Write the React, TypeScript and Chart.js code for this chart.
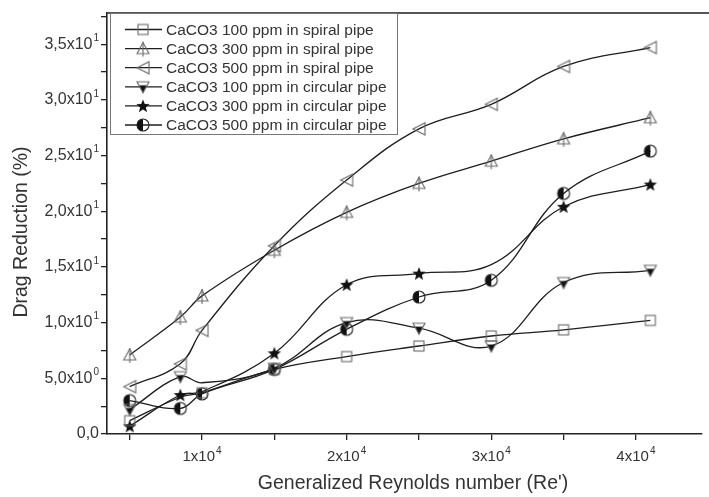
import React, { useEffect, useRef } from 'react';
import { Chart, registerables } from 'chart.js';

Chart.register(...registerables);

// ---- Data ----
const reynolds = [5000, 8500, 10000, 15000, 20000, 25000, 30000, 35000, 41000];
const spiral100 = [1.2, 3.3, 3.7, 5.8, 6.95, 7.9, 8.8, 9.35, 10.2];
const spiral300 = [7.1, 10.5, 12.4, 16.5, 19.9, 22.5, 24.5, 26.5, 28.4];
const spiral500 = [4.25, 6.3, 9.3, 16.9, 22.8, 27.4, 29.6, 33.0, 34.7];
const circular100 = [2.2, 5.15, 4.6, 5.9, 10.0, 9.5, 7.9, 13.6, 14.7];
const circular300 = [0.7, 3.5, 3.8, 7.25, 13.4, 14.4, 15.2, 20.4, 22.4];
const circular500 = [3.0, 2.3, 3.6, 5.8, 9.4, 12.3, 13.8, 21.6, 25.4];
// markers hidden behind other symbols in the original (series index, point index)
const hiddenMarkers = [[0, 1], [3, 2], [4, 2], [4, 6]];

const seriesNames = [
  'CaCO3 100 ppm in spiral pipe',
  'CaCO3 300 ppm in spiral pipe',
  'CaCO3 500 ppm in spiral pipe',
  'CaCO3 100 ppm in circular pipe',
  'CaCO3 300 ppm in circular pipe',
  'CaCO3 500 ppm in circular pipe',
];
const seriesMarkers = ['square', 'triUp', 'triLeft', 'triDown', 'star', 'halfCircle'];

const yTickMarks = [0, 2.5, 5, 7.5, 10, 12.5, 15, 17.5, 20, 22.5, 25, 27.5, 30, 32.5, 35, 37.5];
const yTickValues = [0, 5, 10, 15, 20, 25, 30, 35];
const yTickBase = ['0,0', '5,0x10', '1,0x10', '1,5x10', '2,0x10', '2,5x10', '3,0x10', '3,5x10'];
const yTickExp = ['', '0', '1', '1', '1', '1', '1', '1'];
const xTickMarks = [5000, 10000, 15000, 20000, 25000, 30000, 35000, 40000];
const xTickValues = [10000, 20000, 30000, 40000];
const xTickBase = ['1x10', '2x10', '3x10', '4x10'];
const xTickExp = ['4', '4', '4', '4'];

const xTitle = "Generalized Reynolds number (Re')";
const yTitle = 'Drag Reduction (%)';

const FONT = '"Liberation Sans", Arial, sans-serif';
const LINE = '#1e1e1e';
const OPEN = '#6a6a6a';

function makeMarker(kind: string): HTMLCanvasElement {
  const c = document.createElement('canvas');
  c.width = 18;
  c.height = 18;
  const g = c.getContext('2d')!;
  g.lineWidth = 1.1;
  g.strokeStyle = OPEN;
  const cx = 9, cy = 9;
  if (kind === 'square') {
    g.strokeRect(4, 4, 10, 10);
  } else if (kind === 'triUp') {
    g.beginPath();
    g.moveTo(cx, 3); g.lineTo(15, 14); g.lineTo(3, 14); g.closePath();
    g.stroke();
    g.beginPath();
    g.moveTo(cx, 2); g.lineTo(cx, 17);
    g.stroke();
  } else if (kind === 'triLeft') {
    g.beginPath();
    g.moveTo(3, cy); g.lineTo(15, 3); g.lineTo(15, 15); g.closePath();
    g.stroke();
  } else if (kind === 'triDown') {
    g.beginPath();
    g.moveTo(3, 4); g.lineTo(15, 4); g.lineTo(cx, 15); g.closePath();
    g.save();
    g.clip();
    g.fillStyle = '#111';
    g.fillRect(0, 7.5, 18, 12);
    g.restore();
    g.stroke();
  } else if (kind === 'star') {
    g.beginPath();
    for (let i = 0; i < 10; i++) {
      const r = i % 2 === 0 ? 7 : 3;
      const a = -Math.PI / 2 + (i * Math.PI) / 5;
      const px = cx + r * Math.cos(a);
      const py = cy + 0.5 + r * Math.sin(a);
      if (i === 0) g.moveTo(px, py); else g.lineTo(px, py);
    }
    g.closePath();
    g.fillStyle = '#111';
    g.fill();
  } else if (kind === 'halfCircle') {
    g.beginPath();
    g.arc(cx, cy, 6, Math.PI / 2, (3 * Math.PI) / 2);
    g.closePath();
    g.fillStyle = '#111';
    g.fill();
    g.beginPath();
    g.arc(cx, cy, 6, 0, Math.PI * 2);
    g.strokeStyle = '#222';
    g.stroke();
  }
  return c;
}

function drawSup(ctx: CanvasRenderingContext2D, base: string, exp: string, x: number, y: number, align: 'right' | 'center', size: number) {
  const esize = Math.round(size * 0.65);
  ctx.font = `${size}px ${FONT}`;
  const bw = ctx.measureText(base).width;
  ctx.font = `${esize}px ${FONT}`;
  const ew = exp ? ctx.measureText(exp).width + 1 : 0;
  const total = bw + ew;
  const start = align === 'right' ? x - total : x - total / 2;
  ctx.textAlign = 'left';
  ctx.textBaseline = 'middle';
  ctx.fillStyle = '#333';
  ctx.font = `${size}px ${FONT}`;
  ctx.fillText(base, start, y);
  if (exp) {
    ctx.font = `${esize}px ${FONT}`;
    ctx.fillText(exp, start + bw + 1, y - 6);
  }
}

export default function App() {
  const ref = useRef<HTMLCanvasElement | null>(null);

  useEffect(() => {
    if (!ref.current) return;
    const markers = seriesMarkers.map(makeMarker);
    const allSeries = [spiral100, spiral300, spiral500, circular100, circular300, circular500];

    const datasets = allSeries.map((vals, i) => ({
      label: seriesNames[i],
      data: reynolds.map((x, j) => ({ x, y: vals[j] })),
      borderColor: LINE,
      borderWidth: 1.3,
      backgroundColor: 'transparent',
      pointStyle: markers[i] as any,
      pointRadius: (c: any) => (hiddenMarkers.some(([s, p]) => s === i && p === c.dataIndex) ? 0 : 6),
      tension: 0.4,
      fill: false,
    }));

    const overlay = {
      id: 'overlay',
      afterDraw(chart: any) {
        const ctx: CanvasRenderingContext2D = chart.ctx;
        const area = chart.chartArea;
        const xs = chart.scales.x;
        const ys = chart.scales.y;
        ctx.save();
        // top border
        ctx.strokeStyle = '#555';
        ctx.lineWidth = 2;
        ctx.beginPath();
        ctx.moveTo(area.left, area.top);
        ctx.lineTo(chart.width, area.top);
        ctx.stroke();

        // tick labels
        yTickValues.forEach((v, i) => {
          drawSup(ctx, yTickBase[i], yTickExp[i], area.left - 8, ys.getPixelForValue(v), 'right', 16);
        });
        xTickValues.forEach((v, i) => {
          drawSup(ctx, xTickBase[i], xTickExp[i], xs.getPixelForValue(v), area.bottom + 23, 'center', 15);
        });

        // axis titles
        ctx.fillStyle = '#333';
        ctx.font = `19.5px ${FONT}`;
        ctx.textAlign = 'center';
        ctx.textBaseline = 'middle';
        ctx.fillText(xTitle, 413, 484);
        ctx.save();
        ctx.translate(22, 232);
        ctx.rotate(-Math.PI / 2);
        ctx.fillText(yTitle, 0, 0);
        ctx.restore();

        // legend
        const lx = area.left + 3;
        const ly = area.top;
        const lw = 287;
        const lh = 121;
        ctx.fillStyle = '#fff';
        ctx.fillRect(lx, ly, lw, lh);
        ctx.strokeStyle = '#777';
        ctx.lineWidth = 1;
        ctx.strokeRect(lx + 0.5, ly + 0.5, lw, lh);
        seriesNames.forEach((name, i) => {
          const ry = ly + 16.5 + i * 19.1;
          ctx.strokeStyle = LINE;
          ctx.lineWidth = 1.3;
          ctx.beginPath();
          ctx.moveTo(lx + 15, ry);
          ctx.lineTo(lx + 52, ry);
          ctx.stroke();
          const m = markers[i];
          ctx.drawImage(m, lx + 33 - m.width / 2, ry - m.height / 2);
          ctx.fillStyle = '#333';
          ctx.font = `15.5px ${FONT}`;
          ctx.textAlign = 'left';
          ctx.textBaseline = 'middle';
          ctx.fillText(name, lx + 56, ry + 1);
        });
        ctx.restore();
      },
    };

    const gridOpts = {
      display: true,
      drawOnChartArea: false,
      drawTicks: true,
      tickLength: 6,
      color: '#222',
      lineWidth: 1.3,
    };

    const chart = new Chart(ref.current, {
      type: 'line',
      data: { datasets },
      options: {
        animation: false,
        responsive: false,
        devicePixelRatio: 1,
        layout: { padding: { top: 13, left: 0, right: 0, bottom: 0 } },
        plugins: { legend: { display: false }, tooltip: { enabled: false } },
        scales: {
          x: {
            type: 'linear',
            min: 3430,
            max: 44550,
            afterFit: (s: any) => { s.height = 63; },
            afterBuildTicks: (s: any) => { s.ticks = xTickMarks.map((value) => ({ value })); },
            ticks: { autoSkip: false, callback: () => '', font: { size: 1 } },
            grid: gridOpts,
            border: { display: true, color: '#222', width: 1.6 },
          },
          y: {
            type: 'linear',
            min: 0,
            max: 37.8,
            afterFit: (s: any) => { s.width = 107; },
            afterBuildTicks: (s: any) => { s.ticks = yTickMarks.map((value) => ({ value })); },
            ticks: { autoSkip: false, callback: () => '', font: { size: 1 } },
            grid: gridOpts,
            border: { display: true, color: '#222', width: 1.6 },
          },
        },
      },
      plugins: [overlay],
    });
    return () => chart.destroy();
  }, []);

  return (
    <div style={{ position: 'fixed', left: 0, top: 0, width: 709, height: 497, background: '#fff' }}>
      <canvas ref={ref} width={709} height={497} style={{ display: 'block', width: 709, height: 497 }} />
    </div>
  );
}
